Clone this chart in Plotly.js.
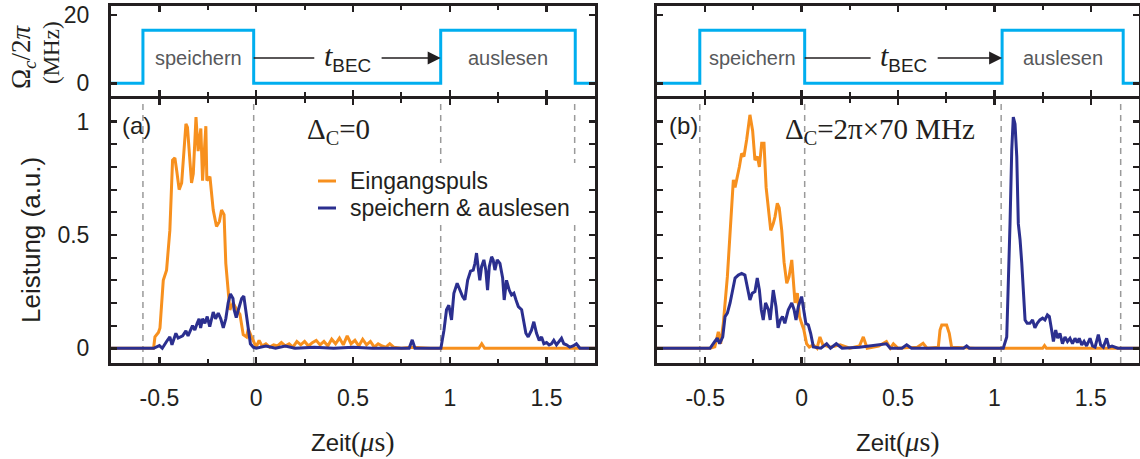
<!DOCTYPE html>
<html><head><meta charset="utf-8">
<script src="https://cdn.plot.ly/plotly-3.0.1.min.js"></script>
<style>html,body{margin:0;padding:0;background:#fff}#chart{width:1140px;height:459px}</style>
</head><body><div id="chart"></div>
<script>
// ---------- DATA ----------
// (a) Delta_c = 0 : input pulse (Eingangspuls)
const tA_in = [-0.75,-0.53,-0.523,-0.505,-0.497,-0.48,-0.463,-0.446,-0.432,-0.42,-0.41,-0.398,-0.385,-0.363,-0.355,-0.345,-0.334,-0.325,-0.311,-0.30,-0.286,-0.277,-0.265,-0.26,-0.255,-0.239,-0.222,-0.205,-0.19,-0.179,-0.166,-0.157,-0.145,-0.136,-0.119,-0.101,-0.084,-0.075,-0.067,-0.05,-0.041,-0.024,-0.007,0.0,0.015,0.03,0.05,0.07,0.09,0.11,0.13,0.15,0.17,0.19,0.21,0.23,0.25,0.27,0.29,0.31,0.33,0.35,0.37,0.39,0.41,0.43,0.45,0.47,0.49,0.51,0.53,0.55,0.57,0.59,0.61,0.63,0.65,0.67,0.69,0.71,0.75,0.8,0.9,1.0,1.15,1.165,1.18,1.4,1.75];
const yA_in = [0,0,0.05,0.07,0.09,0.30,0.345,0.52,0.83,0.84,0.78,0.70,0.73,0.99,0.975,0.85,0.73,0.77,1.02,0.87,0.97,0.74,0.95,0.98,0.74,0.757,0.61,0.537,0.56,0.61,0.59,0.375,0.257,0.17,0.20,0.17,0.15,0.10,0.06,0.05,0.085,0.05,0.02,0.005,0.035,0.01,0.02,0.005,0.015,0.01,0.025,0.01,0.02,0.005,0.03,0.015,0.03,0.01,0.025,0.035,0.015,0.03,0.01,0.04,0.02,0.045,0.015,0.055,0.02,0.035,0.01,0.04,0.015,0.03,0.005,0.02,0.01,0.005,0.02,0.005,0,0.005,0,0,0,0.02,0,0,0];
// (a) stored & retrieved (speichern & auslesen)
const tA_out = [-0.75,-0.53,-0.5,-0.485,-0.463,-0.446,-0.435,-0.415,-0.403,-0.38,-0.363,-0.352,-0.329,-0.317,-0.305,-0.295,-0.287,-0.277,-0.265,-0.253,-0.24,-0.222,-0.21,-0.196,-0.183,-0.17,-0.157,-0.145,-0.133,-0.12,-0.114,-0.103,-0.092,-0.075,-0.064,-0.055,-0.041,-0.03,-0.015,0.0,0.05,0.1,0.15,0.2,0.3,0.4,0.5,0.6,0.7,0.79,0.806,0.82,0.954,0.97,0.983,0.995,1.009,1.021,1.038,1.052,1.066,1.078,1.092,1.107,1.121,1.13,1.138,1.148,1.155,1.164,1.176,1.186,1.195,1.204,1.216,1.224,1.233,1.245,1.259,1.273,1.281,1.293,1.307,1.319,1.331,1.342,1.354,1.371,1.383,1.393,1.405,1.422,1.434,1.448,1.462,1.474,1.486,1.5,1.513,1.525,1.537,1.551,1.577,1.589,1.603,1.62,1.637,1.654,1.672,1.75];
const yA_out = [0,0,0.012,0,0.03,0.05,0.015,0.066,0.045,0.055,0.077,0.055,0.10,0.08,0.11,0.13,0.09,0.13,0.11,0.14,0.095,0.16,0.13,0.155,0.13,0.09,0.13,0.20,0.24,0.22,0.17,0.135,0.17,0.22,0.23,0.17,0.08,0.02,0.005,0,0.01,0,0.01,0,0.005,0,0.005,0,0,0,0.037,0,0,0.08,0.17,0.19,0.125,0.243,0.287,0.257,0.228,0.214,0.30,0.34,0.345,0.375,0.42,0.345,0.30,0.36,0.39,0.345,0.257,0.36,0.404,0.39,0.345,0.39,0.375,0.31,0.213,0.30,0.257,0.235,0.243,0.213,0.184,0.17,0.117,0.066,0.05,0.08,0.117,0.066,0.035,0.05,0.02,0.025,0.015,0.02,0.035,0.015,0.044,0.02,0.015,0.005,0.01,0.02,0,0];
// (b) Delta_c = 2pi x 70 MHz : input pulse
const tB_in = [-0.75,-0.475,-0.45,-0.432,-0.42,-0.406,-0.385,-0.368,-0.354,-0.345,-0.333,-0.323,-0.311,-0.299,-0.285,-0.268,-0.254,-0.242,-0.229,-0.219,-0.207,-0.195,-0.184,-0.172,-0.16,-0.147,-0.138,-0.126,-0.116,-0.103,-0.091,-0.077,-0.065,-0.051,-0.043,-0.034,-0.022,-0.011,0.0,0.012,0.026,0.04,0.06,0.08,0.095,0.11,0.15,0.2,0.25,0.3,0.32,0.34,0.4,0.44,0.46,0.476,0.5,0.6,0.63,0.65,0.709,0.718,0.727,0.752,0.766,0.778,0.9,1.25,1.26,1.27,1.75];
const yB_in = [0,0,0.006,0.073,0.02,0.11,0.316,0.55,0.743,0.71,0.757,0.80,0.86,0.846,0.92,1.03,0.96,0.83,0.846,0.80,0.905,0.905,0.71,0.62,0.52,0.55,0.58,0.64,0.62,0.52,0.38,0.287,0.316,0.39,0.30,0.2,0.243,0.14,0.11,0.08,0.02,0.005,0.015,0.0,0.05,0.015,0.005,0.015,0.0,0.01,0.05,0.0,0.01,0.03,0.0,0.02,0.0,0.005,0.022,0.0,0.005,0.08,0.103,0.103,0.066,0.005,0,0,0.012,0,0];
// (b) stored & retrieved
const tB_out = [-0.75,-0.475,-0.45,-0.437,-0.425,-0.409,-0.397,-0.385,-0.371,-0.357,-0.345,-0.328,-0.311,-0.294,-0.285,-0.276,-0.268,-0.256,-0.242,-0.23,-0.219,-0.209,-0.199,-0.187,-0.172,-0.163,-0.147,-0.133,-0.122,-0.11,-0.099,-0.087,-0.069,-0.051,-0.039,-0.029,-0.017,0.0,0.012,0.022,0.035,0.047,0.061,0.1,0.13,0.15,0.18,0.21,0.3,0.44,0.46,0.52,0.545,0.57,0.84,0.856,0.87,1.046,1.064,1.072,1.081,1.09,1.098,1.107,1.116,1.124,1.133,1.142,1.15,1.159,1.17,1.184,1.198,1.21,1.222,1.236,1.25,1.262,1.275,1.285,1.297,1.306,1.318,1.328,1.34,1.353,1.366,1.379,1.392,1.405,1.418,1.43,1.44,1.453,1.465,1.478,1.496,1.509,1.522,1.539,1.551,1.565,1.582,1.594,1.61,1.64,1.75];
const yB_out = [0,0,0.03,0.045,0.02,0.05,0.14,0.155,0.2,0.257,0.31,0.323,0.33,0.323,0.287,0.257,0.213,0.243,0.25,0.31,0.257,0.17,0.125,0.2,0.17,0.125,0.257,0.184,0.09,0.125,0.14,0.11,0.17,0.2,0.17,0.125,0.184,0.228,0.17,0.11,0.103,0.066,0.006,0,0.02,0,0.02,0,0.005,0.02,0,0,0.015,0,0,0.01,0,0,0.05,0.257,0.55,0.875,1.02,0.99,0.846,0.55,0.48,0.375,0.243,0.125,0.11,0.11,0.125,0.09,0.11,0.125,0.133,0.125,0.147,0.14,0.08,0.03,0.08,0.045,0.066,0.02,0.05,0.03,0.044,0.02,0.044,0.025,0.044,0.015,0.03,0.01,0.044,0.01,0.005,0.06,0.015,0.005,0.044,0.005,0.01,0,0];
// control field Omega_c/2pi (MHz)
const ctrlA_t = [-0.75,-0.585,-0.585,-0.013,-0.013,0.953,0.953,1.648,1.648,1.75];
const ctrlA_v = [0,0,15.5,15.5,0,0,15.5,15.5,0,0];
const ctrlB_t = [-0.75,-0.528,-0.528,0.016,0.016,1.04,1.04,1.668,1.668,1.75];
const ctrlB_v = [0,0,15.5,15.5,0,0,15.5,15.5,0,0];
// switching edges (dashed lines)
const edgesA = [-0.585,-0.013,0.953,1.645];
const edgesB = [-0.528,0.016,1.035,1.655];
// tick labels
const xTickVals = [-0.5,0,0.5,1,1.5];
const xTickText = ['-0.5','0','0.5','1','1.5'];
const yTickVals = [0,0.5,1];
const yTickText = ['0','0.5','1'];
const yTopTickVals = [0,20];
const yTopTickText = ['0','20'];
const seriesNames = ['Eingangspuls','speichern &amp; auslesen'];
const panelLabels = ['(a)','(b)'];
const detuningLabels = ['Δ<sub>C</sub>=0','Δ<sub>C</sub>=2π×70 MHz'];

// ---------- STYLE ----------
const ORANGE = '#f7901e', BLUE = '#2b2f8f', CYAN = '#00aeef', INK = '#231f20';
const SANS = 'Liberation Sans, Arial, sans-serif';
const SERIF = 'Liberation Serif, Times New Roman, serif';
const W = 1140, H = 459;
const px = v => v / W, py = v => (H - v) / H;
const domA = [px(111), px(595)], domB = [px(657), px(1139)];
const domMain = [py(363), py(99)], domTop = [py(96), py(6)];

const axBase = {showline:true, linecolor:INK, linewidth:3, mirror:'ticks', ticks:'inside',
  tickcolor:INK, tickwidth:2.5, ticklen:6, showgrid:false, zeroline:false, fixedrange:true,
  tickfont:{family:SANS, size:23, color:INK}};
function xAx(dom, anchor, labels){
  return Object.assign({}, axBase, {domain:dom, anchor:anchor, range:[-0.75,1.75],
    tickmode:'array', tickvals:xTickVals, ticktext:xTickText, showticklabels:labels,
    ticklabelstandoff:12,
    minor:{tickmode:'linear', tick0:0, dtick:0.25, ticks:'inside', ticklen:4, tickwidth:2, tickcolor:INK}});
}
function yMain(anchor, labels){
  return Object.assign({}, axBase, {domain:domMain, anchor:anchor, range:[-0.065,1.1],
    tickmode:'array', tickvals:yTickVals, ticktext:yTickText, showticklabels:labels, ticklabelstandoff:14,
    minor:{tickmode:'linear', tick0:0, dtick:0.1, ticks:'inside', ticklen:6, tickwidth:2, tickcolor:INK}});
}
function yTop(anchor, labels){
  return Object.assign({}, axBase, {domain:domTop, anchor:anchor, range:[-3.72,22.6],
    tickmode:'array', tickvals:yTopTickVals, ticktext:yTopTickText, showticklabels:labels, ticklabelstandoff:14});
}

const lineStyle = c => ({color:c, width:3});
const traces = [
  {x:ctrlA_t, y:ctrlA_v, xaxis:'x2', yaxis:'y2', mode:'lines', line:lineStyle(CYAN), showlegend:false},
  {x:ctrlB_t, y:ctrlB_v, xaxis:'x4', yaxis:'y4', mode:'lines', line:lineStyle(CYAN), showlegend:false},
  {x:tA_in, y:yA_in, xaxis:'x', yaxis:'y', mode:'lines', line:lineStyle(ORANGE), name:seriesNames[0], showlegend:false},
  {x:tA_out, y:yA_out, xaxis:'x', yaxis:'y', mode:'lines', line:lineStyle(BLUE), name:seriesNames[1], showlegend:false},
  {x:tB_in, y:yB_in, xaxis:'x3', yaxis:'y3', mode:'lines', line:lineStyle(ORANGE), name:seriesNames[0], showlegend:false},
  {x:tB_out, y:yB_out, xaxis:'x3', yaxis:'y3', mode:'lines', line:lineStyle(BLUE), name:seriesNames[1], showlegend:false}
];

const shapes = [];
[[edgesA,'x','y'],[edgesB,'x3','y3']].forEach(([edges,xr,yr]) => {
  edges.forEach(e => shapes.push({type:'line', xref:xr, yref:yr+' domain', x0:e, x1:e, y0:0, y1:1,
    line:{color:'#9a9a9a', width:1.5, dash:'6px,5px'}, layer:'below'}));
});

const annotations = [];
// legend (drawn by hand to match the short line samples of the original)
shapes.push({type:'rect', xref:'paper', yref:'paper', x0:px(306), x1:px(590), y0:py(224), y1:py(163),
  fillcolor:'#fff', line:{width:0}, layer:'below'});
[[ORANGE,181],[BLUE,208]].forEach(([c,yy],i) => {
  shapes.push({type:'line', xref:'paper', yref:'paper', x0:px(318), x1:px(336), y0:py(yy), y1:py(yy),
    line:{color:c, width:3}, layer:'above'});
  annotations.push({xref:'paper', yref:'paper', x:px(348), y:py(yy), xanchor:'left', yanchor:'middle',
    showarrow:false, text:seriesNames[i], font:{family:SANS, size:23, color:INK}});
});

const HALF = 0.17;  // half-width of the t_BEC label gap (x units)
[[ctrlA_t,'x2','y2'],[ctrlB_t,'x4','y4']].forEach(([ct,xr,yr]) => {
  const store = [ct[2], ct[3]], read = [ct[6], ct[7]];
  const mid = (store[1] + read[0]) / 2;
  shapes.push({type:'line', xref:xr, yref:yr, x0:store[1], x1:mid-HALF, y0:7.4, y1:7.4, line:{color:INK, width:1.3}});
  annotations.push({xref:xr, yref:yr, x:read[0], y:7.4, ax:mid+HALF, ay:7.4, axref:xr, ayref:yr,
    showarrow:true, arrowhead:2, arrowsize:2, arrowwidth:1.3, arrowcolor:INK, standoff:0, text:''});
  annotations.push({xref:xr, yref:yr, x:mid, y:7.4, showarrow:false, xanchor:'center', yanchor:'middle',
    text:'<span style="font-family:Liberation Serif;font-size:30px"><i>t</i></span><sub>BEC</sub>', font:{family:SANS, size:27, color:INK}});
  annotations.push({xref:xr, yref:yr, x:(store[0]+store[1])/2, y:7.4, showarrow:false, text:'speichern',
    font:{family:SANS, size:20, color:'#58595b'}});
  annotations.push({xref:xr, yref:yr, x:(read[0]+read[1])/2, y:7.4, showarrow:false, text:'auslesen',
    font:{family:SANS, size:20, color:'#58595b'}});
});
[['x','y',-0.705,0.25],['x3','y3',-0.698,-0.096]].forEach(([xr,yr,xl,xd],i) => {
  annotations.push({xref:xr, yref:yr, x:xl, y:0.985, xanchor:'left', yanchor:'middle', showarrow:false,
    text:panelLabels[i], font:{family:SANS, size:24, color:INK}});
  annotations.push({xref:xr, yref:yr, x:xd, y:0.96, xanchor:'left', yanchor:'middle', showarrow:false,
    text:detuningLabels[i], font:{family:SERIF, size:29, color:INK}});
});
[domA, domB].forEach(d => annotations.push({xref:'paper', yref:'paper', x:(d[0]+d[1])/2, y:py(441),
  xanchor:'center', yanchor:'middle', showarrow:false,
  text:'Zeit<span style="font-family:Liberation Serif;font-size:28px">(<i>μ</i>s)</span>', font:{family:SANS, size:24, color:INK}}));
annotations.push({xref:'paper', yref:'paper', x:px(31), y:py(240), textangle:-90, showarrow:false,
  xanchor:'center', yanchor:'middle', text:'Leistung (a.u.)', font:{family:SANS, size:26, color:INK}});
annotations.push({xref:'paper', yref:'paper', x:px(23), y:py(57), textangle:-90, showarrow:false,
  xanchor:'center', yanchor:'middle', text:'Ω<sub><i>c</i></sub>/2<i>π</i>', font:{family:SERIF, size:27, color:INK}});
annotations.push({xref:'paper', yref:'paper', x:px(51), y:py(53), textangle:-90, showarrow:false,
  xanchor:'center', yanchor:'middle', text:'(MHz)', font:{family:SERIF, size:23, color:INK}});

const layout = {
  width:W, height:H, margin:{l:0,r:0,t:0,b:0}, paper_bgcolor:'#fff', plot_bgcolor:'#fff',
  showlegend:false,
  xaxis:xAx(domA,'y',true), yaxis:yMain('x',true),
  xaxis2:xAx(domA,'y2',false), yaxis2:yTop('x2',true),
  xaxis3:xAx(domB,'y3',true), yaxis3:yMain('x3',false),
  xaxis4:xAx(domB,'y4',false), yaxis4:yTop('x4',false),
  shapes:shapes, annotations:annotations
};
Plotly.newPlot('chart', traces, layout, {staticPlot:true, displayModeBar:false});
</script></body></html>
